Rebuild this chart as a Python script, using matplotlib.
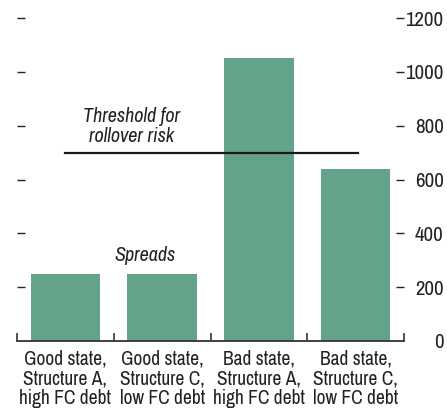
import matplotlib
matplotlib.use("Agg")
import matplotlib.pyplot as plt
from matplotlib import font_manager

categories = ["Good state,\nStructure A,\nhigh FC debt",
              "Good state,\nStructure C,\nlow FC debt",
              "Bad state,\nStructure A,\nhigh FC debt",
              "Bad state,\nStructure C,\nlow FC debt"]
spreads = [250, 250, 1050, 638]
threshold = 700
yticks = [0, 200, 400, 600, 800, 1000, 1200]

names = {f.name for f in font_manager.fontManager.ttflist}
fam = "DejaVu Sans"
for cand in ["Archivo Narrow", "Roboto Condensed", "Liberation Sans Narrow", "Asap Condensed"]:
    if cand in names:
        fam = cand
        break
plt.rcParams['font.family'] = [fam, 'DejaVu Sans']

fig = plt.figure(figsize=(4.47, 4.09), dpi=100)
ax = fig.add_axes([17/447, 68/409, 387/447, 323/409])
x = list(range(len(categories)))
ax.bar(x, spreads, width=0.72, color="#63a38a", zorder=2)
ax.set_xlim(-0.5, 3.5)
ax.set_ylim(0, 1200)

ax.plot([0.0, 3.02], [threshold, threshold], color="#1a1a1a", lw=1.6, zorder=3)
ax.text(0.68, 797, "Threshold for\nrollover risk", ha="center", va="center",
        fontsize=14.5, style="italic", color="#222222", linespacing=1.05)
ax.text(0.82, 318, "Spreads", ha="center", va="center",
        fontsize=14.5, style="italic", color="#222222")

for s in ["top", "left", "right"]:
    ax.spines[s].set_visible(False)
ax.spines["bottom"].set_color("#333333")
ax.spines["bottom"].set_linewidth(1.3)

ax.set_xticks(x)
ax.set_xticklabels(categories, fontsize=14, color="#222222", linespacing=1.07)
ax.tick_params(axis="x", which="major", length=0, pad=6)
ax.set_xticks([-0.5, 0.5, 1.5, 2.5, 3.5], minor=True)
ax.tick_params(axis="x", which="minor", direction="in", length=6, width=1.2, color="#333333")

ax.set_yticks(yticks)
ax.yaxis.set_ticks_position("both")
ax.tick_params(axis="y", which="major", direction="in", length=6, width=1.0,
               color="#222222", labelleft=False, labelright=True,
               labelsize=15, labelcolor="#222222", pad=28.5)
for lbl in ax.get_yticklabels():
    lbl.set_ha("right")
ticks = ax.yaxis.get_major_ticks()
ticks[0].tick1line.set_visible(False)
ticks[0].tick2line.set_visible(False)

fig.savefig("out.png", dpi=100)
